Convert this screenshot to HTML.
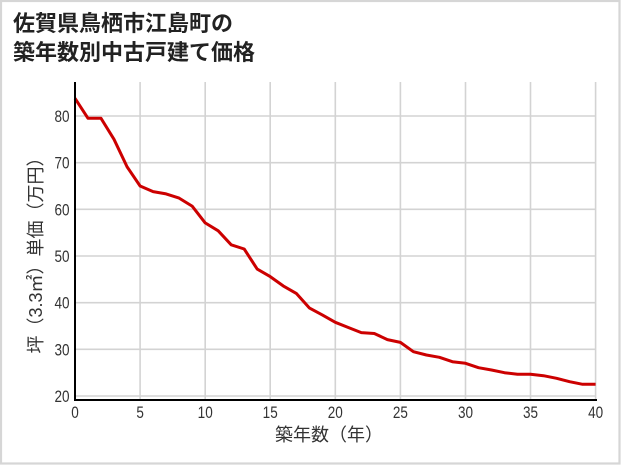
<!DOCTYPE html>
<html><head><meta charset="utf-8"><style>
html,body{margin:0;padding:0;background:#fff;}
svg{display:block;}
.t{font-family:"Liberation Sans","Noto Sans CJK JP",sans-serif;}
.n{font-family:"Liberation Sans",sans-serif;font-size:16.5px;fill:#333;}
</style></head><body>
<svg width="621" height="465" viewBox="0 0 621 465" xmlns="http://www.w3.org/2000/svg">
<rect x="0" y="0" width="621" height="465" fill="#fff"/>
<rect x="1" y="1" width="618.5" height="462.5" fill="none" stroke="#d6d6d6" stroke-width="2.2"/>
<text class="t" x="13" y="31" font-size="22" font-weight="bold" fill="#222">佐賀県鳥栖市江島町の</text>
<text class="t" x="13" y="60" font-size="22" font-weight="bold" fill="#222">築年数別中古戸建て価格</text>
<g stroke="#d3d3d3" stroke-width="1.6">
<line x1="75" y1="116" x2="596" y2="116"/>
<line x1="75" y1="162.7" x2="596" y2="162.7"/>
<line x1="75" y1="209.3" x2="596" y2="209.3"/>
<line x1="75" y1="256" x2="596" y2="256"/>
<line x1="75" y1="302.7" x2="596" y2="302.7"/>
<line x1="75" y1="349.3" x2="596" y2="349.3"/>
<line x1="75" y1="396" x2="596" y2="396"/>
<line x1="140.1" y1="82" x2="140.1" y2="400"/>
<line x1="205.2" y1="82" x2="205.2" y2="400"/>
<line x1="270.2" y1="82" x2="270.2" y2="400"/>
<line x1="335.3" y1="82" x2="335.3" y2="400"/>
<line x1="400.4" y1="82" x2="400.4" y2="400"/>
<line x1="465.5" y1="82" x2="465.5" y2="400"/>
<line x1="530.5" y1="82" x2="530.5" y2="400"/>
<line x1="595.6" y1="82" x2="595.6" y2="400"/>
</g>
<polyline fill="none" stroke="#cc0000" stroke-width="3" stroke-linejoin="round" points="75,98.3 88,118.3 101,118.3 114,139.3 127.1,166.9 140.1,186 153.1,191.6 166.1,193.9 179.1,198.1 192.1,206.1 205.2,222.9 218.2,230.8 231.2,244.8 244.2,249 257.2,269.1 270.2,276.6 283.2,285.9 296.3,293.4 309.3,307.9 322.3,314.9 335.3,322.3 348.3,327.5 361.3,332.6 374.3,333.5 387.4,339.6 400.4,342.4 413.4,351.7 426.4,355 439.4,357.3 452.4,361.7 465.5,363.3 478.5,367.7 491.5,370 504.5,372.7 517.5,374.3 530.5,374.3 543.5,375.7 556.6,378.3 569.6,381.7 582.6,384.3 595.6,384.3"/>
<line x1="75" y1="82" x2="75" y2="401" stroke="#000" stroke-width="2"/>
<line x1="74" y1="400" x2="597" y2="400" stroke="#000" stroke-width="2"/>
<g class="n" text-anchor="end">
<text transform="translate(69.5,122) scale(0.82,1)">80</text>
<text transform="translate(69.5,168.7) scale(0.82,1)">70</text>
<text transform="translate(69.5,215.3) scale(0.82,1)">60</text>
<text transform="translate(69.5,262) scale(0.82,1)">50</text>
<text transform="translate(69.5,308.7) scale(0.82,1)">40</text>
<text transform="translate(69.5,355.3) scale(0.82,1)">30</text>
<text transform="translate(69.5,402) scale(0.82,1)">20</text>
</g>
<g class="n" text-anchor="middle">
<text transform="translate(75,418) scale(0.82,1)">0</text>
<text transform="translate(140.1,418) scale(0.82,1)">5</text>
<text transform="translate(205.2,418) scale(0.82,1)">10</text>
<text transform="translate(270.2,418) scale(0.82,1)">15</text>
<text transform="translate(335.3,418) scale(0.82,1)">20</text>
<text transform="translate(400.4,418) scale(0.82,1)">25</text>
<text transform="translate(465.5,418) scale(0.82,1)">30</text>
<text transform="translate(530.5,418) scale(0.82,1)">35</text>
<text transform="translate(595.6,418) scale(0.82,1)">40</text>
</g>
<text class="t" x="329" y="441" font-size="18" fill="#333" text-anchor="middle">築年数（年）</text>
<text class="t" transform="translate(42,251) rotate(-90)" font-size="18" fill="#333" text-anchor="middle">坪（3.3㎡）単価（万円）</text>
</svg>
</body></html>
